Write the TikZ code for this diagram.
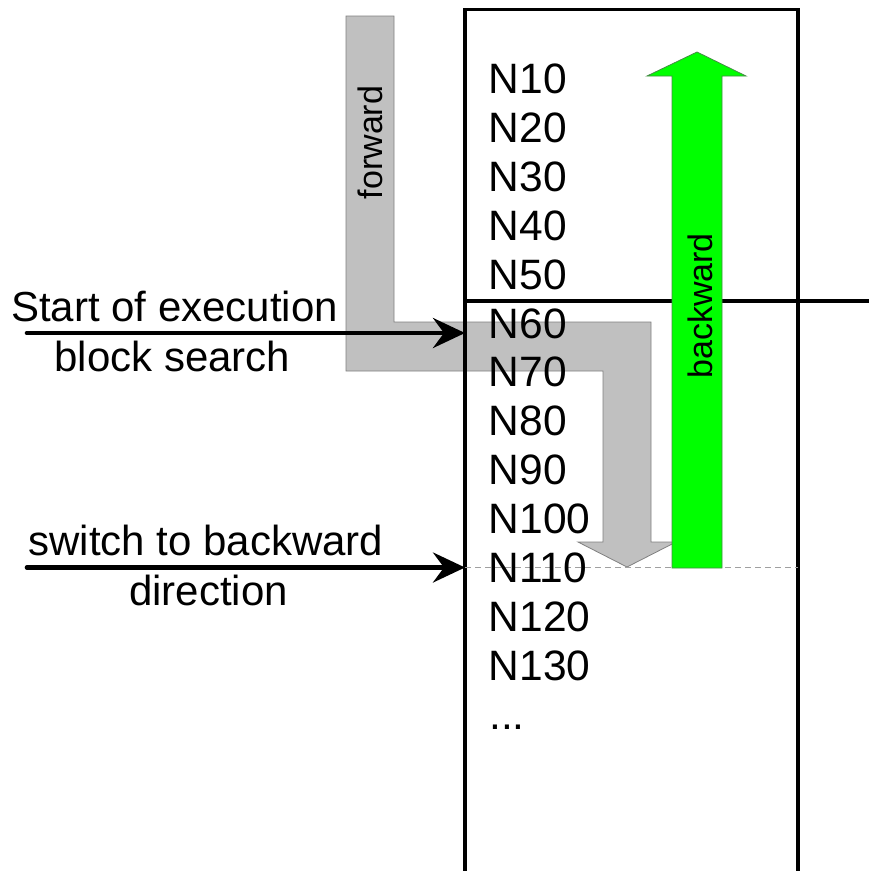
\documentclass[tikz,border=0pt]{standalone}
\usepackage{fontspec}
\setmainfont{Liberation Sans}
\usetikzlibrary{arrows.meta}
\definecolor{fwdfill}{RGB}{192,192,192}
\definecolor{fwdedge}{RGB}{128,128,128}
\definecolor{bwdfill}{RGB}{0,255,0}
\definecolor{bwdedge}{RGB}{70,140,70}
\definecolor{dashgray}{RGB}{160,160,160}
\begin{document}
\begin{tikzpicture}[x=1pt,y=-1pt,
  nlabel/.style={anchor=base west, inner sep=0pt, font=\fontsize{42.5}{50}\selectfont},
  sidelabel/.style={anchor=base, inner sep=0pt, font=\fontsize{42}{50}\selectfont},
  vlabel/.style={rotate=90, inner sep=0pt, font=\fontsize{34}{40}\selectfont},
  boxline/.style={line width=3.2pt},
  pointer/.style={line width=4.6pt, line cap=round, -{Stealth[length=32pt,width=30pt,inset=11pt]}},
  fwdshape/.style={fill=fwdfill, draw=fwdedge, line width=0.8pt, line join=miter},
  bwdshape/.style={fill=bwdfill, draw=bwdedge, line width=0.8pt, line join=miter},
  marker/.style={dashgray, line width=1.2pt, dash pattern=on 6pt off 4pt}
]
\useasboundingbox (0,0) rectangle (869,871);

% forward arrow (gray)
\draw[fwdshape] (346,16) -- (394,16) -- (394,322) -- (651,322) -- (651,542)
  -- (676,542) -- (627,567) -- (578,542) -- (603,542) -- (603,371)
  -- (346,371) -- cycle;

% block list frame
\draw[boxline] (465,871) -- (465,9.5) -- (798,9.5) -- (798,871);
\draw[boxline] (465,301) -- (869,301);
\draw[marker] (465,567.5) -- (798,567.5);

% backward arrow (green)
\draw[bwdshape] (672,568) -- (672,76) -- (647,76) -- (697,52) -- (746,76)
  -- (722,76) -- (722,568) -- cycle;

% rotated labels
\node[vlabel] (fwd) at (370.5,142.5) {forward};
\node[vlabel] (bwd) at (700,306) {backward};

% block numbers
\foreach \i in {1,...,13}
  \node[nlabel] (n\i) at (488.5,{93.5+48.9*(\i-1)}) {N\i0};
\node[nlabel] (dots) at (489,729) {...};

% side labels
\node[sidelabel] (start1) at (174.5,321) {Start of execution};
\node[sidelabel] (start2) at (172.5,371) {block search};
\node[sidelabel] (sw1) at (206,555) {switch to backward};
\node[sidelabel] (sw2) at (208.5,605) {direction};

% pointers
\coordinate (p1s) at (27,333);
\coordinate (p1e) at (465,333);
\coordinate (p2s) at (27,567.5);
\coordinate (p2e) at (465,567.5);
\draw[pointer] (p1s) -- (p1e);
\draw[pointer] (p2s) -- (p2e);
\end{tikzpicture}
\end{document}
